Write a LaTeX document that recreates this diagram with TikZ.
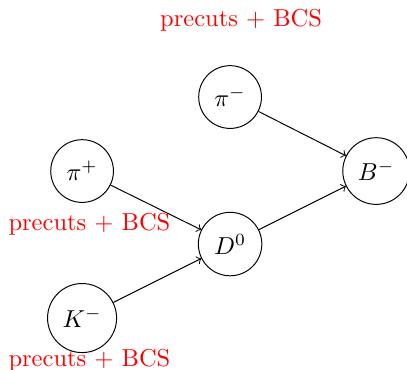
\documentclass[tikz,border=0pt]{standalone}
\begin{document}
\begin{tikzpicture}[x=1pt,y=1pt,
  particle/.style={draw,circle,inner sep=3.8pt},
  cutlabel/.style={text=red,inner sep=0pt,anchor=base},
  decay/.style={->}]
\useasboundingbox (0,0) rectangle (166.1,150.6);
\node[particle] (pim) at (93.9,111.0) {$\pi^-$};
\node[particle] (B) at (153.5,80.8) {$B^-$};
\node[particle] (pip) at (33.5,80.8) {$\pi^+$};
\node[particle] (D) at (93.9,51.0) {$D^0$};
\node[particle] (K) at (33.5,20.8) {$K^-$};
\node[cutlabel] (l1) at (98.4,139.8) {precuts + BCS};
\node[cutlabel] (l2) at (36.5,56.5) {precuts + BCS};
\node[cutlabel] (l3) at (36.5,1.2) {precuts + BCS};
\draw[decay] (pim) -- (B);
\draw[decay] (pip) -- (D);
\draw[decay] (K) -- (D);
\draw[decay] (D) -- (B);
\end{tikzpicture}
\end{document}
